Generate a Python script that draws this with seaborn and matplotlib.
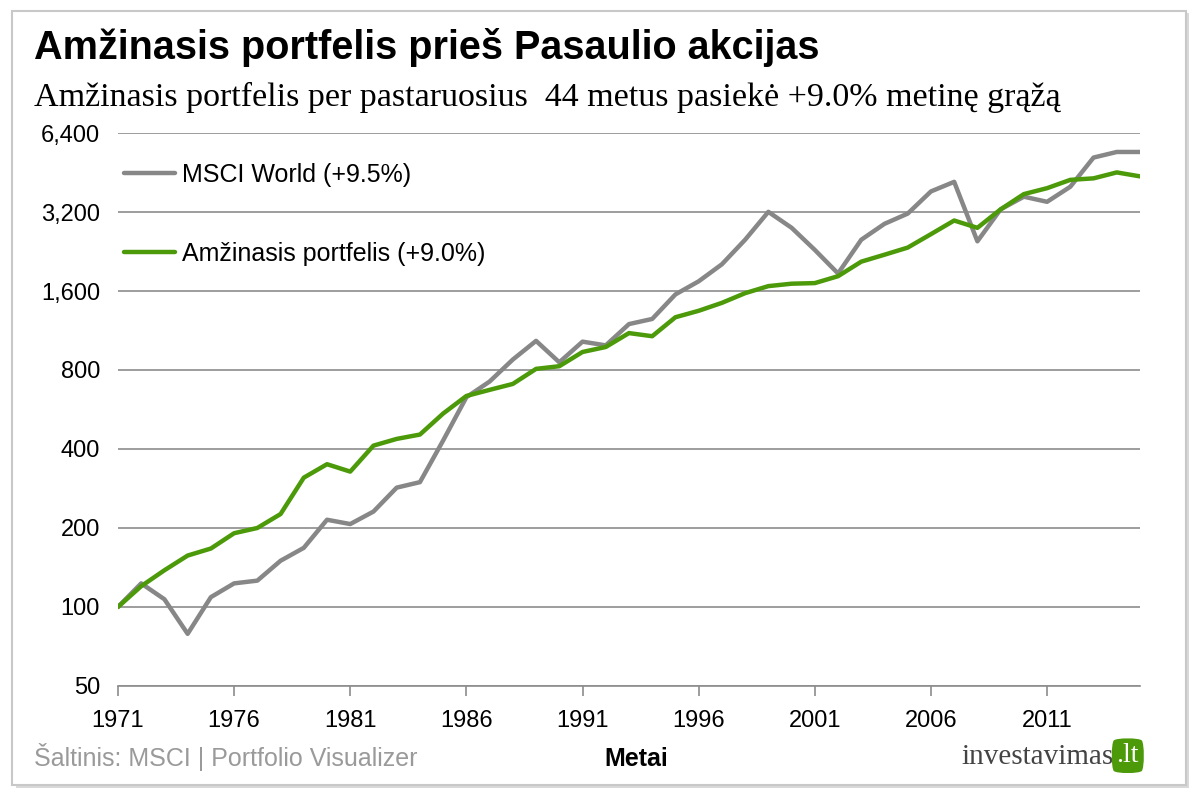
import numpy as np
import pandas as pd
import matplotlib.pyplot as plt
import seaborn as sns
from matplotlib.patches import FancyBboxPatch
from matplotlib.ticker import FixedLocator, FuncFormatter

years = list(range(1971, 2016))
msci = [100, 123, 107, 79, 109, 123, 126, 150, 168, 215, 207, 231, 285, 299, 431,
        630, 723, 877, 1033, 856, 1026, 993, 1197, 1252, 1553, 1742, 2023, 2509, 3205, 2787,
        2295, 1866, 2509, 2885, 3156, 3834, 4170, 2475, 3276, 3660, 3500, 3995, 5160, 5420, 5420]
amzinasis = [100, 120, 138, 157, 167, 191, 200, 226, 311, 350, 328, 412, 437, 454, 546,
             637, 672, 708, 808, 827, 937, 979, 1106, 1076, 1271, 1345, 1442, 1570, 1670, 1706,
             1715, 1822, 2070, 2200, 2342, 2635, 2970, 2785, 3276, 3745, 3945, 4243, 4300, 4530, 4375]
series_names = ["MSCI World (+9.5%)", "Amžinasis portfelis (+9.0%)"]
y_ticks = [50, 100, 200, 400, 800, 1600, 3200, 6400]
x_ticks = list(range(1971, 2012, 5))

df = pd.DataFrame({
    "Metai": years * 2,
    "Vertė": msci + amzinasis,
    "Serija": [series_names[0]] * len(years) + [series_names[1]] * len(years),
})

sns.set_style("white")
plt.rcParams["font.family"] = ["Liberation Sans", "DejaVu Sans"]
plt.rcParams["text.color"] = "black"

fig = plt.figure(figsize=(12, 7.98), dpi=100)
fig.patch.set_facecolor("white")

# frame with a soft shadow
shadow = FancyBboxPatch((0.013, 0.012), 0.978, 0.972, boxstyle="square,pad=0",
                        transform=fig.transFigure, facecolor="#d9d9d9", edgecolor="none", zorder=-2)
frame = FancyBboxPatch((0.010, 0.016), 0.978, 0.970, boxstyle="square,pad=0",
                       transform=fig.transFigure, facecolor="white", edgecolor="#c8c8c8",
                       linewidth=1.5, zorder=-1)
fig.patches.extend([shadow, frame])

ax = fig.add_axes([0.0983, 0.1404, 0.8517, 0.6929])
ax.set_facecolor("none")

sns.lineplot(data=df, x="Metai", y="Vertė", hue="Serija", ax=ax,
             palette=["#878787", "#4C9A0A"], linewidth=3.2)

ax.set_yscale("log", base=2)
ax.set_ylim(50, 6400)
ax.set_xlim(1971, 2015)
ax.yaxis.set_major_locator(FixedLocator(y_ticks))
ax.yaxis.set_minor_locator(FixedLocator([]))
ax.yaxis.set_major_formatter(FuncFormatter(lambda v, p: f"{int(v):,}"))
ax.set_xticks(x_ticks)
ax.grid(axis="y", color="#8c8c8c", linewidth=1.2)
ax.grid(axis="x", visible=False)
for s in ["left", "right", "top"]:
    ax.spines[s].set_visible(False)
ax.spines["bottom"].set_color("#8c8c8c")
ax.spines["bottom"].set_linewidth(1.2)
ax.tick_params(axis="y", length=0, labelsize=17, pad=13, labelcolor="black")
ax.tick_params(axis="x", direction="out", length=7, color="#8c8c8c", width=1.2,
               labelsize=17, pad=10, bottom=True, labelcolor="black")
ax.set_xlabel("")
ax.set_ylabel("")

leg = ax.legend(loc="upper left", bbox_to_anchor=(0.006, 0.946), frameon=False,
                fontsize=18, handlelength=2.05, handletextpad=0.25, labelspacing=2.2,
                borderaxespad=0, borderpad=0)
for line in leg.get_lines():
    line.set_linewidth(3.2)
for t in leg.get_texts():
    t.set_color("black")

fig.text(0.028, 0.94, "Amžinasis portfelis prieš Pasaulio akcijas", fontsize=28.5,
         fontweight="bold", va="center", ha="left")
fig.text(0.028, 0.878, "Amžinasis portfelis per pastaruosius  44 metus pasiekė +9.0% metinę grąžą",
         fontsize=24.5, va="center", ha="left", family=["Liberation Serif", "DejaVu Serif"])

fig.text(0.028, 0.051, "Šaltinis: MSCI | Portfolio Visualizer", fontsize=18,
         color="#9a9a9a", va="center", ha="left")
fig.text(0.53, 0.049, "Metai", fontsize=18, fontweight="bold", va="center", ha="center")
fig.text(0.928, 0.051, "investavimas", fontsize=21, color="#444444", va="center", ha="right",
         family=["Liberation Serif", "DejaVu Serif"])
fig.text(0.9305, 0.053, ".lt", fontsize=20, color="white", va="center", ha="left",
         family=["Liberation Serif", "DejaVu Serif"],
         bbox=dict(boxstyle="round4,pad=0.2", facecolor="#4C9A0A", edgecolor="none"))

fig.savefig("out.png", dpi=100)
